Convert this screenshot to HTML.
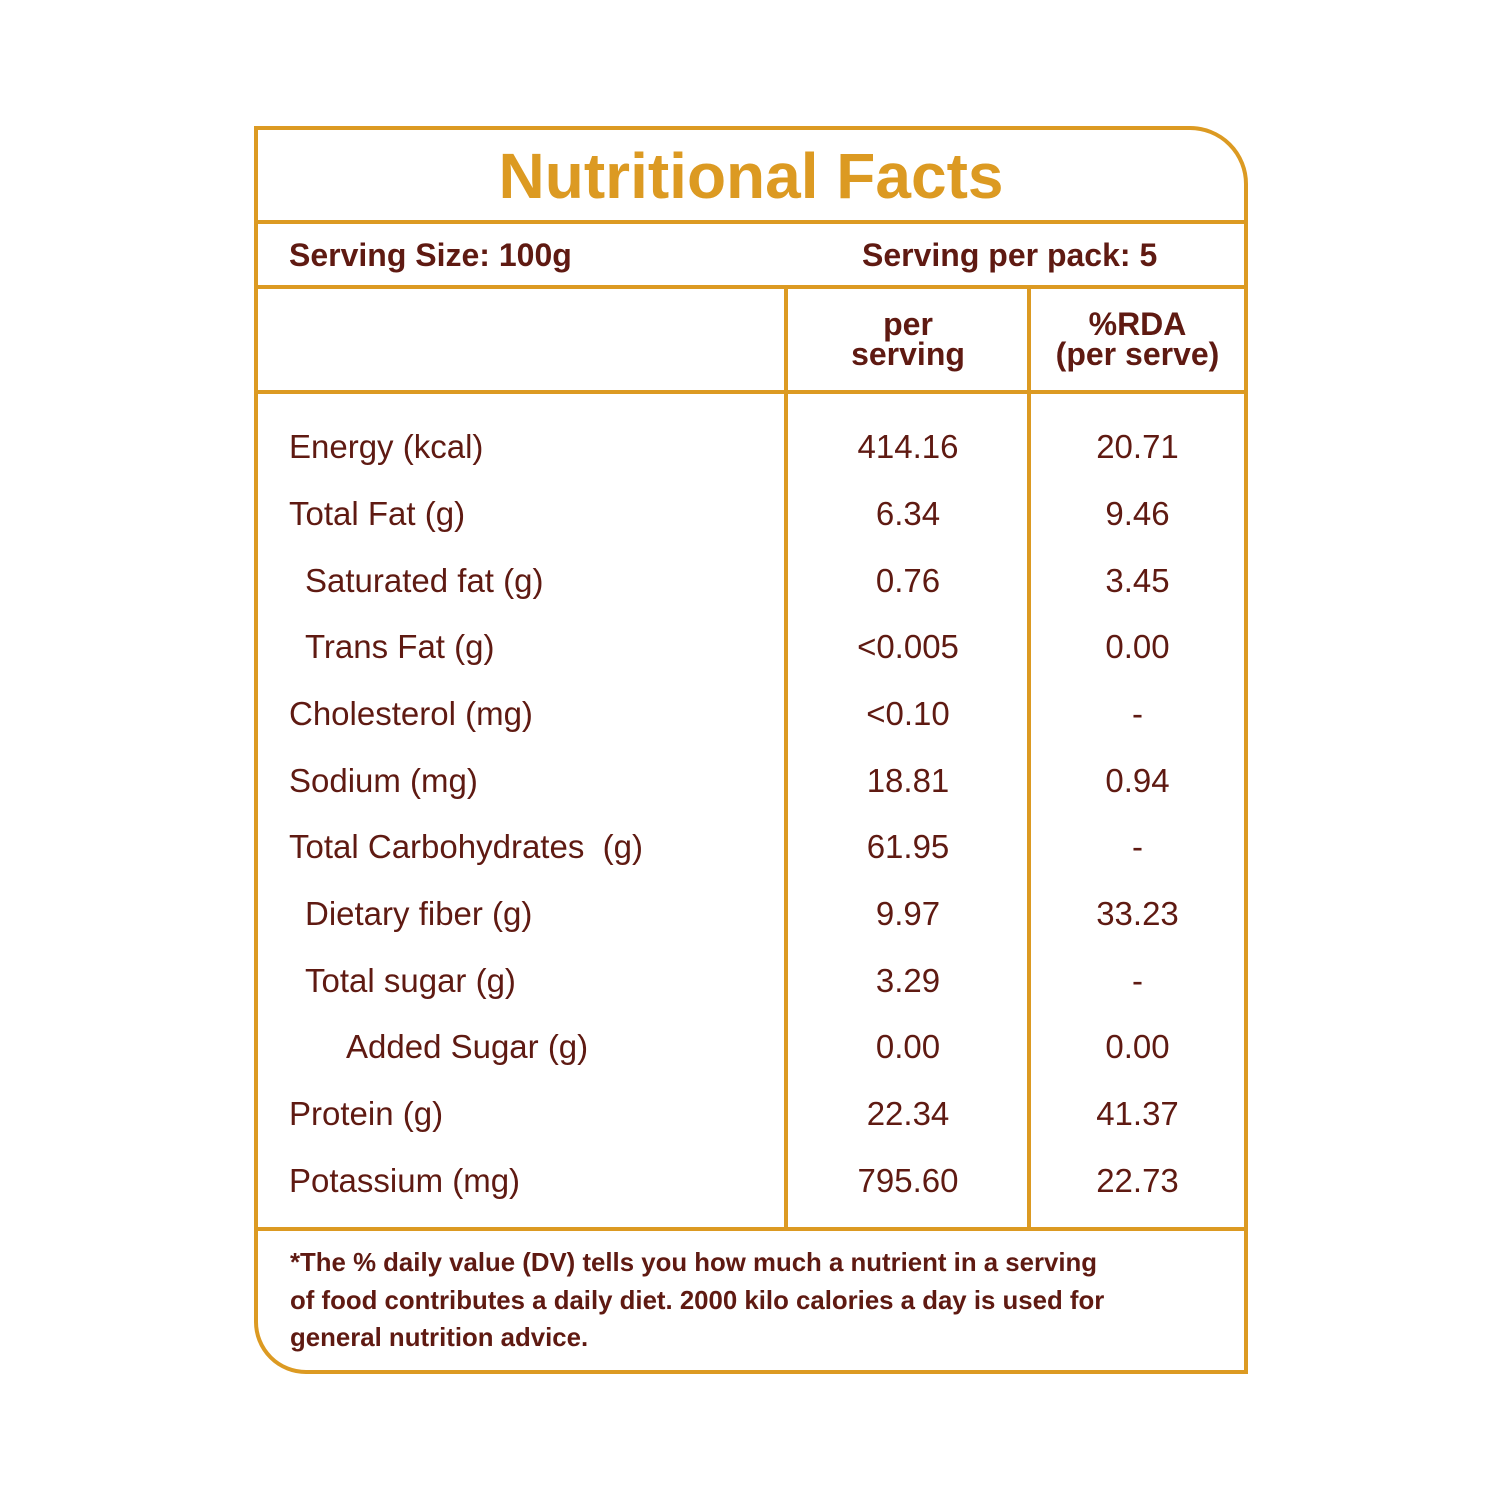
<!DOCTYPE html>
<html><head><style>
body{margin:0;width:1500px;height:1500px;background:#fff;position:relative;font-family:"Liberation Sans",sans-serif;color:#5f1a12;}
.box{position:absolute;left:254px;top:126px;width:986px;height:1240px;border:4px solid #dc9a22;border-radius:0 58px 0 52px;}
.h{position:absolute;left:254px;width:994px;height:4px;background:#dc9a22;}
.v{position:absolute;width:4px;background:#dc9a22;}
.t{position:absolute;white-space:nowrap;line-height:1;}
.r{font-size:33px;}
.c1{position:absolute;left:788px;width:240px;text-align:center;}
.c2{position:absolute;left:1031px;width:213px;text-align:center;}
</style></head><body>
<div class="box"></div>
<div class="h" style="top:220px"></div>
<div class="h" style="top:285px"></div>
<div class="h" style="top:390px"></div>
<div class="h" style="top:1227px"></div>
<div class="v" style="left:784px;top:285px;height:946px"></div>
<div class="v" style="left:1027px;top:285px;height:946px"></div>
<div class="t" style="left:254px;width:994px;text-align:center;top:144px;font-size:64px;font-weight:bold;color:#dc9a22;">Nutritional Facts</div>
<div class="t" style="left:289px;top:239px;font-size:32px;font-weight:bold;">Serving Size: 100g</div>
<div class="t" style="left:862px;top:239px;font-size:32px;font-weight:bold;">Serving per pack: 5</div>
<div class="t c1" style="top:309px;font-size:32px;font-weight:bold;line-height:30px;">per<br>serving</div>
<div class="t c2" style="top:309px;font-size:32px;font-weight:bold;line-height:30px;">%RDA<br>(per serve)</div>
<div class="r">
<div class="t" style="left:289px;top:430px">Energy (kcal)</div><div class="t c1" style="top:430px">414.16</div><div class="t c2" style="top:430px">20.71</div>
<div class="t" style="left:289px;top:497px">Total Fat (g)</div><div class="t c1" style="top:497px">6.34</div><div class="t c2" style="top:497px">9.46</div>
<div class="t" style="left:305px;top:564px">Saturated fat (g)</div><div class="t c1" style="top:564px">0.76</div><div class="t c2" style="top:564px">3.45</div>
<div class="t" style="left:305px;top:630px">Trans Fat (g)</div><div class="t c1" style="top:630px">&lt;0.005</div><div class="t c2" style="top:630px">0.00</div>
<div class="t" style="left:289px;top:697px">Cholesterol (mg)</div><div class="t c1" style="top:697px">&lt;0.10</div><div class="t c2" style="top:697px">-</div>
<div class="t" style="left:289px;top:764px">Sodium (mg)</div><div class="t c1" style="top:764px">18.81</div><div class="t c2" style="top:764px">0.94</div>
<div class="t" style="left:289px;top:830px">Total Carbohydrates&nbsp; (g)</div><div class="t c1" style="top:830px">61.95</div><div class="t c2" style="top:830px">-</div>
<div class="t" style="left:305px;top:897px">Dietary fiber (g)</div><div class="t c1" style="top:897px">9.97</div><div class="t c2" style="top:897px">33.23</div>
<div class="t" style="left:305px;top:964px">Total sugar (g)</div><div class="t c1" style="top:964px">3.29</div><div class="t c2" style="top:964px">-</div>
<div class="t" style="left:346px;top:1030px">Added Sugar (g)</div><div class="t c1" style="top:1030px">0.00</div><div class="t c2" style="top:1030px">0.00</div>
<div class="t" style="left:289px;top:1097px">Protein (g)</div><div class="t c1" style="top:1097px">22.34</div><div class="t c2" style="top:1097px">41.37</div>
<div class="t" style="left:289px;top:1164px">Potassium (mg)</div><div class="t c1" style="top:1164px">795.60</div><div class="t c2" style="top:1164px">22.73</div>
</div>
<div class="t" style="left:290px;top:1245px;font-size:25.8px;font-weight:bold;line-height:37.5px;">*The % daily value (DV) tells you how much a nutrient in a serving<br>of food contributes a daily diet. 2000 kilo calories a day is used for<br>general nutrition advice.</div>
</body></html>
